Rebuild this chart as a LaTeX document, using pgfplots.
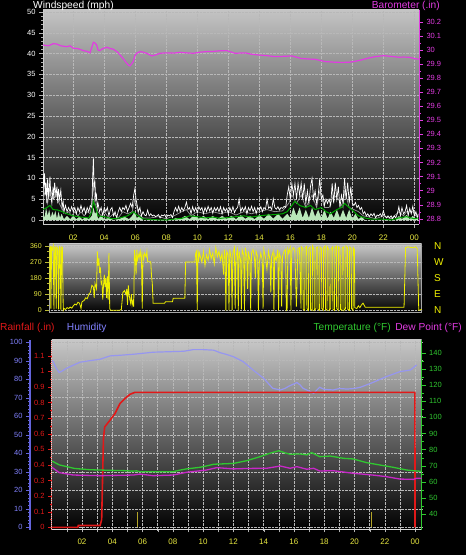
\documentclass[border=0pt]{standalone}
\usepackage{fontspec}
\setmainfont{Liberation Sans}
\usepackage{pgfplots}
\pgfplotsset{compat=1.18}
\definecolor{bgtop}{RGB}{196,196,196}
\definecolor{baromag}{RGB}{226,60,226}
\definecolor{xyel}{RGB}{232,232,64}
\definecolor{diryel}{RGB}{240,240,0}
\definecolor{humblue}{RGB}{130,130,255}
\definecolor{humline}{RGB}{150,150,240}
\definecolor{humaxis}{RGB}{100,100,220}
\definecolor{rainred}{RGB}{225,25,25}
\definecolor{tempgreen}{RGB}{48,200,48}
\definecolor{dewmag}{RGB}{200,40,200}
\definecolor{palegreen}{RGB}{185,230,185}
\definecolor{olive}{RGB}{180,165,40}
\pgfplotsset{
  every axis/.append style={scale only axis, anchor=south west,
    /pgf/number format/assume math mode=true,
    tick label style={font=\fontsize{7.5}{8}\selectfont},
    tick align=outside, major tick length=4pt, minor tick length=2pt},
}
\begin{document}
\begin{tikzpicture}
\fill[black] (0,0) rectangle (466pt,555pt);
\path[use as bounding box] (0,0) rectangle (466pt,555pt);

% ---------- top panel: wind ----------
\begin{axis}[at={(43pt,331pt)}, width=376pt, height=214pt,
  xmin=0.05, xmax=24.3, ymin=-0.96, ymax=50.48,
  axis background/.style={top color=bgtop, bottom color=black},
  axis x line*=bottom, axis y line*=left,
  axis line style={draw=white!80!black, line width=0.8pt, -},
  xtick={2,4,6,8,10,12,14,16,18,20,22,24},
  xticklabels={02,04,06,08,10,12,14,16,18,20,22,00},
  xticklabel style={text=xyel, font=\fontsize{8}{9}\selectfont, yshift=-3pt},
  ytick={0,5,10,15,20,25,30,35,40,45,50},
  yticklabel style={text=white},
  minor y tick num=4,
  tick style={white!70!black},
  xmajorgrids, ymajorgrids,
  grid style={densely dotted, white!72!black, line width=0.5pt}]
\addplot[fill=palegreen, draw=none] coordinates {
(0.05,2)(0.15,0.5)(0.25,3)(0.35,1)(0.45,2.5)(0.55,0.5)(0.65,2)(0.75,1)(0.85,2.2)(0.95,0.3)(1.05,2)(1.15,0.5)(1.25,1.5)(1.4,0.2)(1.6,1)(1.8,0.2)(2.0,1)(2.2,0.2)(2.4,0.8)(2.6,0.1)(2.8,0.8)(3.0,0.2)(3.2,1)(3.3,3)(3.4,1.5)(3.5,2)(3.6,0.3)(3.8,1)(4.0,0.2)(4.3,0.5)(4.6,0)(5.0,0.3)(5.3,0.8)(5.6,0.2)(5.8,1)(5.95,2)(6.1,0.5)(6.3,1)(6.5,0)(8.4,0)(8.6,0.5)(8.9,0.2)(9.2,1)(9.5,0.2)(9.8,1.2)(10.1,0.3)(10.4,1)(10.7,0.2)(11.0,1)(11.3,0.2)(11.6,1)(11.9,0.3)(12.2,1)(12.5,0.2)(12.8,1.2)(13.1,0.3)(13.4,1)(13.7,0.2)(14.0,1.2)(14.3,0.3)(14.6,1.5)(14.9,0.3)(15.2,1.5)(15.5,0.3)(15.8,1.5)(16.0,0.5)(16.2,3)(16.4,1)(16.6,3)(16.8,0.5)(17.0,2.5)(17.2,0.5)(17.4,3)(17.6,0.8)(17.8,2.5)(18.0,0.5)(18.2,2.5)(18.4,0.3)(18.6,2)(18.8,0.5)(19.0,2.5)(19.2,0.5)(19.4,2.5)(19.6,0.5)(19.8,2.5)(20.0,0.3)(20.2,1.5)(20.4,0.2)(20.6,0.8)(20.8,0)(22.8,0)(23.0,1)(23.2,0.2)(23.5,1.2)(23.7,0.2)(23.9,1)(24.1,0.2)(24.25,0.5)
} \closedcycle;
\addplot[white!60!black, line width=0.7pt] coordinates {
(0.05,5)(0.2,7)(0.35,4)(0.5,8)(0.7,5)(0.9,6)(1.1,4)(1.3,2.5)(1.5,1.5)(1.7,2)(1.9,1)(2.1,2)(2.3,1)(2.5,2)(2.7,1)(2.9,2)(3.1,1.5)(3.25,6)(3.3,9)(3.4,4)(3.6,2)(3.8,1)(4.0,2)(4.3,0.5)(4.6,1.5)(4.9,0.5)(5.2,2)(5.5,1.5)(5.8,2)(5.98,5)(6.2,1.5)(6.5,0.5)(7.0,0.5)(7.5,0.8)(8.0,0.3)(8.5,1)(9.0,2)(9.3,2.5)(9.6,1)(10,2)(10.5,1.5)(11,2)(11.5,1.5)(12,2)(12.5,1.2)(13,2)(13.5,1.5)(14,2)(14.5,2.5)(15,2)(15.5,2.2)(15.9,4)(16.1,6)(16.4,4)(16.7,6)(17,3)(17.4,6)(17.7,3)(17.9,7)(18.2,3)(18.5,3)(18.8,6)(19.1,5)(19.4,3)(19.5,7)(19.8,3)(20.1,2.5)(20.4,2)(20.7,1)(21,0.8)(21.5,0.3)(22,1)(22.5,0.3)(23,2)(23.3,1)(23.5,2)(23.9,2)(24.1,1)(24.25,0.8)
};
\addplot[white, line width=0.7pt] coordinates {
(0.05,11)(0.1,8)(0.15,11.2)(0.2,6)(0.25,9)(0.3,4)(0.35,10)(0.42,5)(0.5,10.4)(0.55,6)(0.62,4)(0.7,8)(0.75,5)(0.8,9)(0.88,6)(0.95,8)(1.0,4)(1.05,7.5)(1.12,5)(1.2,7.2)(1.28,3)(1.35,4.5)(1.4,2)(1.5,3.5)(1.6,2)(1.7,3)(1.8,2)(1.9,3.2)(2.0,2)(2.1,3)(2.2,1.5)(2.3,3)(2.4,2)(2.5,3.5)(2.6,2)(2.7,3)(2.8,1.5)(2.9,3)(3.0,2)(3.1,3.5)(3.2,3)(3.25,10)(3.3,14.8)(3.35,8)(3.4,9)(3.45,5)(3.5,6)(3.55,3)(3.6,4)(3.7,2)(3.8,3)(3.9,1)(4.0,3)(4.1,2)(4.2,3)(4.3,1)(4.4,2.5)(4.5,3)(4.6,1)(4.7,2)(4.8,0.5)(4.9,2)(5.0,3)(5.1,2)(5.2,3)(5.3,2.5)(5.4,3.5)(5.5,2)(5.6,3)(5.7,4)(5.8,3)(5.9,6)(5.98,7.6)(6.05,5)(6.1,4)(6.2,2)(6.3,3)(6.4,1)(6.5,2)(6.6,1.2)(6.7,1)(6.8,2.4)(6.9,1)(7.0,1.5)(7.1,1)(7.2,1.2)(7.3,0.8)(7.4,1)(7.5,1.3)(7.6,0.5)(7.7,1.2)(7.8,1)(7.9,1.3)(8.0,0.5)(8.1,1.2)(8.2,1)(8.3,1.3)(8.4,0.6)(8.5,2)(8.6,3)(8.7,2)(8.8,3.3)(8.9,2)(9.0,3)(9.1,2.2)(9.2,3)(9.3,4.3)(9.4,2.5)(9.5,3)(9.6,1.5)(9.7,3.2)(9.8,2)(9.9,3)(10.0,1.8)(10.1,3.2)(10.2,2.4)(10.3,3)(10.4,1.5)(10.5,3)(10.6,2)(10.7,3.3)(10.8,2.2)(10.9,3)(11.0,1.6)(11.1,3)(11.2,2.2)(11.3,3)(11.4,2)(11.5,3.2)(11.6,1.5)(11.7,3)(11.8,2.1)(11.9,2.8)(12.0,1.5)(12.1,3)(12.2,2)(12.3,3.2)(12.4,1.8)(12.5,2.6)(12.6,3)(12.7,5)(12.8,2)(12.9,3)(13.0,2.2)(13.1,3.2)(13.2,1.5)(13.3,3)(13.4,2.2)(13.5,3.3)(13.6,2)(13.7,3)(13.8,1.6)(13.9,3)(14.0,2.4)(14.1,3.2)(14.2,2)(14.3,3)(14.4,2.6)(14.5,5)(14.6,2.8)(14.7,3.2)(14.8,2.5)(14.9,5.1)(15.0,3)(15.1,2.6)(15.2,3.2)(15.3,2.4)(15.4,3)(15.5,2.8)(15.6,3.3)(15.7,3)(15.8,6)(15.9,8)(16.0,5)(16.1,8.8)(16.2,6)(16.3,8.8)(16.4,5)(16.5,8.8)(16.6,6)(16.7,8.8)(16.8,5)(16.9,8.8)(17.0,4)(17.1,7)(17.2,4)(17.3,8)(17.4,10)(17.5,5)(17.6,7)(17.7,4)(17.8,6)(17.9,10)(18.0,5)(18.1,6)(18.2,3.5)(18.3,5)(18.4,4)(18.5,5)(18.6,3.5)(18.7,8.8)(18.8,4)(18.9,9)(19.0,5)(19.1,8)(19.2,3)(19.3,6)(19.4,4)(19.5,10)(19.6,5)(19.7,9)(19.8,4)(19.9,8)(20.0,4)(20.1,3.5)(20.2,4.2)(20.3,3)(20.4,3.5)(20.5,2.5)(20.6,3)(20.7,1.5)(20.8,2)(20.9,1)(21.0,1.5)(21.1,0.8)(21.2,1.5)(21.3,1)(21.4,1.6)(21.5,0.5)(21.6,1.2)(21.7,1)(21.8,1.5)(21.9,0.8)(22.0,2.2)(22.1,1)(22.2,0.5)(22.3,1)(22.4,0.5)(22.5,1)(22.6,0.3)(22.7,1)(22.8,0.5)(22.9,1.5)(23.0,3.2)(23.1,1)(23.2,3)(23.3,1.5)(23.4,2)(23.5,3.5)(23.6,1)(23.7,2.8)(23.8,1.5)(23.9,3.3)(24.0,1)(24.1,2)(24.2,0.5)(24.25,1.5)
};
\addplot[green!65!black, line width=1pt] coordinates {
(0.05,2.5)(0.3,3)(0.5,3.5)(0.7,2.5)(1.0,2.4)(1.3,2)(1.6,1.5)(2.0,1)(2.5,0.7)(3.0,0.5)(3.2,2)(3.3,4.5)(3.45,3)(3.6,1)(4.0,0.8)(4.5,0.3)(5.0,0.5)(5.5,1)(5.9,2)(6.1,1.2)(6.5,0.3)(7.0,0.1)(8.0,0)(8.5,0.2)(9.0,0.4)(9.5,1)(10,0.8)(10.5,0.5)(11,0.7)(11.5,0.4)(12,0.6)(12.5,0.8)(13,1)(13.5,0.7)(14,1)(14.5,1.2)(15,1.3)(15.5,1.5)(15.8,2)(16.0,3)(16.3,4.5)(16.6,3.5)(17.0,3)(17.3,3.5)(17.6,2.5)(18.0,3)(18.3,2)(18.6,1.5)(19.0,2.5)(19.3,3)(19.5,4)(19.8,3)(20.1,2)(20.4,1)(20.8,0.5)(21.2,0.2)(22,0.2)(22.5,0)(23,0.5)(23.5,0.8)(24,0.3)(24.25,0.5)
};
\end{axis}
\begin{axis}[at={(43pt,331pt)}, width=376pt, height=214pt,
  xmin=0.05, xmax=24.3, ymin=28.762, ymax=30.285,
  axis x line=none, axis y line*=right,
  axis line style={draw=baromag, line width=0.8pt, -},
  ytick={28.8,28.9,29,29.1,29.2,29.3,29.4,29.5,29.6,29.7,29.8,29.9,30,30.1,30.2},
  yticklabel style={text=baromag},
  minor y tick num=1, tick style={baromag}]
\addplot[baromag, line width=1.2pt] coordinates {
(0.06,30.036)(0.4,30.03)(0.7,30.045)(0.93,30.043)(1.2,30.03)(1.57,30.024)(1.8,30.03)(2.0,30.013)(2.3,30.01)(2.65,29.996)(2.9,29.99)(3.08,29.98)(3.2,30.02)(3.3,30.055)(3.4,30.05)(3.51,30.036)(3.6,30.0)(3.72,29.996)(3.9,30.01)(4.16,30.02)(4.4,30.01)(4.58,30.006)(4.8,29.99)(5.02,29.965)(5.25,29.935)(5.45,29.906)(5.6,29.89)(5.66,29.887)(5.75,29.9)(5.87,29.918)(5.98,29.96)(6.09,29.977)(6.31,29.989)(6.5,29.985)(6.74,29.977)(7.06,29.958)(7.3,29.965)(7.6,29.977)(8.0,29.98)(8.5,29.978)(8.89,29.984)(9.3,29.98)(9.75,29.977)(10.2,29.985)(10.61,29.989)(11.0,29.99)(11.5,29.995)(11.9,29.996)(12.44,29.977)(13.09,29.98)(13.5,29.97)(13.95,29.965)(14.5,29.96)(15.02,29.953)(15.5,29.955)(16.1,29.958)(16.7,29.94)(17.2,29.936)(17.6,29.934)(18.25,29.918)(18.9,29.913)(19.3,29.912)(19.76,29.913)(20.2,29.92)(20.6,29.93)(21.0,29.942)(21.48,29.953)(22.0,29.96)(22.5,29.955)(22.98,29.949)(23.3,29.95)(23.63,29.949)(24.0,29.94)(24.28,29.934)
};
\end{axis}

% ---------- middle panel: wind direction ----------
\begin{axis}[at={(49.3pt,242.3pt)}, width=372.4pt, height=68.7pt,
  xmin=0.45, xmax=24.49, ymin=-13.4, ymax=371,
  axis background/.style={top color=bgtop!95!white, bottom color=black},
  axis line style={draw=white!65!black, line width=0.8pt},
  xtick=\empty,
  ytick={0,90,180,270,360}, ymajorgrids,
  ytick pos=left,
  minor y tick num=2,
  yticklabel style={text=xyel, font=\fontsize{7}{8}\selectfont},
  tick style={xyel!80!black},
  grid style={densely dotted, white!72!black, line width=0.5pt}]
\addplot[diryel, line width=0.8pt] coordinates {
(0.45,60)(0.47,350)(0.52,355)(0.55,10)(0.6,350)(0.65,340)(0.7,360)(0.75,5)(0.8,355)(0.85,350)(0.9,10)(0.93,355)(1.0,345)(1.05,5)(1.1,355)(1.15,350)(1.2,0)(1.25,355)(1.3,350)(1.35,0)(1.4,10)(1.5,5)(1.6,15)(1.7,10)(1.8,18)(1.9,12)(2.0,25)(2.1,35)(2.2,30)(2.3,45)(2.4,40)(2.5,10)(2.55,45)(2.6,50)(2.7,55)(2.8,70)(2.9,65)(3.0,90)(3.1,100)(3.2,140)(3.3,130)(3.35,70)(3.4,150)(3.5,120)(3.55,330)(3.6,250)(3.65,290)(3.7,210)(3.75,240)(3.8,150)(3.85,160)(3.9,60)(3.95,140)(4.0,200)(4.05,130)(4.1,180)(4.15,70)(4.2,190)(4.25,60)(4.3,320)(4.35,10)(4.4,0)(4.5,0)(5.0,0)(5.1,5)(5.2,100)(5.3,110)(5.4,90)(5.45,120)(5.5,30)(5.55,140)(5.6,90)(5.65,60)(5.7,40)(5.75,90)(5.8,30)(5.85,50)(5.9,20)(5.95,338)(6.0,300)(6.05,200)(6.1,340)(6.15,280)(6.2,300)(6.25,320)(6.3,290)(6.35,330)(6.4,300)(6.45,10)(6.5,310)(6.55,290)(6.6,320)(6.7,300)(6.75,330)(6.8,272)(7.0,272)(7.05,190)(7.1,150)(7.15,40)(7.9,40)(7.95,48)(8.4,48)(8.45,67)(9.2,67)(9.25,270)(9.85,270)(9.9,320)(9.95,330)(10.0,0)(10.05,340)(10.1,290)(10.15,320)(10.2,300)(10.3,270)(10.4,330)(10.5,250)(10.6,310)(10.7,280)(10.8,340)(10.9,290)(11.0,320)(11.1,260)(11.2,350)(11.3,300)(11.4,330)(11.5,280)(11.6,320)(11.7,200)(11.75,340)(11.8,300)(11.85,0)(11.9,330)(12.0,310)(12.05,0)(12.1,340)(12.2,290)(12.25,0)(12.3,320)(12.4,350)(12.45,10)(12.5,300)(12.6,340)(12.65,0)(12.7,330)(12.8,280)(12.85,5)(12.9,340)(13.0,310)(13.05,0)(13.1,350)(13.2,300)(13.25,120)(13.3,330)(13.4,280)(13.45,0)(13.5,320)(13.6,340)(13.7,290)(13.75,180)(13.8,330)(13.9,300)(13.95,0)(14.0,260)(14.1,320)(14.2,280)(14.25,10)(14.3,340)(14.4,300)(14.5,230)(14.6,330)(14.7,280)(14.75,100)(14.8,300)(14.9,330)(14.95,0)(15.0,310)(15.1,280)(15.2,340)(15.25,0)(15.3,320)(15.4,290)(15.45,20)(15.5,300)(15.6,330)(15.7,340)(15.75,0)(15.8,5)(15.85,340)(15.9,320)(16.0,350)(16.05,0)(16.1,330)(16.2,350)(16.3,340)(16.4,20)(16.5,345)(16.6,350)(16.7,10)(16.72,355)(16.82,345)(16.84,5)(16.94,0)(16.96,350)(17.06,358)(17.08,10)(17.18,0)(17.2,345)(17.3,355)(17.32,5)(17.42,0)(17.44,360)(17.54,340)(17.56,0)(17.66,10)(17.68,350)(17.78,355)(17.8,5)(17.9,0)(17.92,355)(18.02,345)(18.04,10)(18.14,0)(18.16,350)(18.26,360)(18.28,5)(18.38,0)(18.4,355)(18.5,338)(18.52,0)(18.62,10)(18.64,345)(18.74,355)(18.76,5)(18.86,0)(18.88,350)(18.98,360)(19.0,10)(19.1,0)(19.12,355)(19.22,345)(19.24,5)(19.34,0)(19.36,350)(19.46,355)(19.48,0)(19.58,10)(19.6,360)(19.7,350)(19.72,5)(19.82,0)(19.84,355)(19.94,345)(19.96,10)(20.06,0)(20.08,350)(20.15,340)(20.17,15)(20.3,10)(20.4,25)(20.5,15)(20.6,30)(20.7,40)(20.8,25)(20.85,17)(23.35,17)(23.45,350)(23.6,355)(23.9,350)(24.1,355)(24.2,345)(24.3,0)(24.49,5)
};
\end{axis}
\begin{axis}[at={(49.3pt,242.3pt)}, width=372.4pt, height=68.7pt,
  xmin=0.45, xmax=24.49, ymin=-13.4, ymax=371,
  axis x line=none, axis y line*=right, axis line style={draw=none},
  ytick={0,90,180,270,360}, yticklabels={N,E,S,W,N},
  major tick length=0pt,
  yticklabel style={text=diryel, font=\fontsize{10}{11}\selectfont, xshift=9pt}]
\addplot[draw=none] coordinates {(1,0)};
\end{axis}

% ---------- bottom panel ----------
\begin{axis}[at={(52pt,25pt)}, width=369.7pt, height=190pt,
  xmin=0.02, xmax=24.44, ymin=-1.46, ymax=101.2,
  axis background/.style={top color=bgtop!95!white, bottom color=black},
  axis x line*=bottom, axis y line*=left,
  axis line style={draw=white!85!black, line width=1pt, -},
  xtick={1,2,...,24},
  xticklabels={,02,,04,,06,,08,,10,,12,,14,,16,,18,,20,,22,,00},
  xticklabel style={text=xyel, font=\fontsize{8}{9}\selectfont, yshift=-3pt},
  major tick length=2.5pt,
  tick style={white!70!black},
  ytick={0,10,...,100}, yticklabels={}, ytick style={draw=none},
  xmajorgrids, ymajorgrids,
  grid style={densely dotted, white!72!black, line width=0.5pt}]
\addplot[humline, line width=1.2pt] coordinates {
(0.02,90)(0.1,89.5)(0.3,86)(0.5,83.6)(0.7,84.5)(1.0,86)(1.4,87.5)(1.87,89.2)(2.5,90)(3.2,90.8)(3.85,92.6)(4.6,93)(5.4,93.5)(6.0,94)(6.7,94.6)(7.5,94.8)(8.7,95.1)(9.0,95.5)(9.35,96)(10.0,96)(10.7,95.7)(11.1,94.4)(11.5,93.5)(12.0,92.2)(12.65,89.5)(13.3,85)(14.0,80.5)(14.6,75.1)(15.1,74.2)(15.4,75)(15.7,76.4)(16.2,78.2)(16.4,77)(16.6,75.1)(16.9,74)(17.3,72.4)(17.7,75.7)(18.0,74.5)(18.6,74.2)(19.0,75)(19.5,74.7)(20.0,75)(20.4,75.7)(21.2,78.2)(22.1,81.4)(23.0,84.1)(23.7,85)(24.1,87.7)
};
\end{axis}
\begin{axis}[at={(52pt,25pt)}, width=369.7pt, height=190pt,
  xmin=0.02, xmax=24.44, ymin=-0.017, ymax=1.2,
  axis x line=none, axis y line*=left,
  axis line style={draw=rainred!70!white, line width=1pt, densely dotted, -},
  ytick={0,0.1,0.2,0.3,0.4,0.5,0.6,0.7,0.8,0.9,1,1.1},
  yticklabel style={text=rainred},
  minor y tick num=1, tick style={rainred}]
\addplot[olive, line width=1pt, ycomb] coordinates {(5.68,0.1)(21.14,0.1)};
\addplot[rainred, line width=1.6pt] coordinates {
(0.02,0)(1.72,0)(1.76,0.012)(3.2,0.012)(3.3,0.05)(3.38,0.4)(3.42,0.57)(3.5,0.643)(3.85,0.686)(4.18,0.729)(4.51,0.793)(4.84,0.825)(5.17,0.852)(5.5,0.865)(23.99,0.865)(24.0,0)
};
\end{axis}
\begin{axis}[at={(52pt,25pt)}, width=369.7pt, height=190pt,
  xmin=0.02, xmax=24.44, ymin=30.06, ymax=148.07,
  axis x line=none, axis y line*=right,
  axis line style={draw=tempgreen, line width=1pt, -},
  ytick={40,50,60,70,80,90,100,110,120,130,140},
  yticklabel style={text=tempgreen},
  minor y tick num=1, tick style={tempgreen}]
\addplot[tempgreen, line width=1.3pt] coordinates {
(0.02,72.8)(0.1,72.5)(0.5,70.5)(1.0,69.4)(1.5,68.3)(1.87,68)(2.5,67.5)(3.2,67.3)(4.0,67.1)(4.95,66.9)(5.3,66.6)(5.6,66.8)(5.83,66.3)(7.0,66.2)(8.03,66.3)(8.5,67.3)(8.9,68)(9.8,69)(10.3,70)(10.7,70.9)(12.0,71.4)(12.88,73.1)(13.76,75.6)(14.4,77.7)(15.0,79.3)(15.4,78)(15.75,77.1)(16.4,77.3)(16.85,76.7)(17.17,78.1)(17.7,75.6)(18.4,76.0)(19.26,74.6)(19.9,74.2)(20.8,71.9)(21.7,70.4)(22.56,69)(23.45,67.3)(24.1,66.7)(24.44,66.5)
};
\addplot[dewmag, line width=1.3pt] coordinates {
(0.02,69)(0.1,68.4)(0.5,65.7)(1.43,64.2)(3.2,63.8)(5.4,64.2)(5.83,64.8)(6.7,63.8)(8.03,64.2)(8.9,65.9)(10.23,67.3)(10.9,68.8)(12,68)(13,68.3)(14.2,68.4)(15.1,69.8)(15.75,68.4)(16.2,69.4)(16.85,67.8)(17.3,68.4)(17.7,66.7)(18.6,66.9)(19.9,65.3)(21.2,64.2)(22.1,63.2)(23.0,61.7)(23.9,61.5)(24.1,62.2)(24.44,62.2)
};
\end{axis}
% humidity scale at far left
\begin{axis}[at={(30pt,25pt)}, width=1pt, height=190pt,
  xmin=0, xmax=1, ymin=-1.46, ymax=101.2,
  axis x line=none, axis y line*=left,
  axis line style={draw=humaxis, line width=1.5pt, -},
  ytick={0,10,20,30,40,50,60,70,80,90,100},
  yticklabel style={text=humblue},
  minor y tick num=4, tick style={humaxis}]
\addplot[draw=none] coordinates {(0.5,50)};
\end{axis}

% ---------- titles ----------
\begin{scope}[every node/.style={inner sep=0pt, font=\fontsize{10.2}{12}\selectfont}]
\node[anchor=base west, text=white] at (33pt,546pt) {Windspeed (mph)};
\node[anchor=base east, text=baromag] at (440pt,546pt) {Barometer (.in)};
\node[anchor=base west, text=rainred] at (0pt,224.3pt) {Rainfall (.in)};
\node[anchor=base west, text=humblue] at (66.7pt,224.3pt) {Humidity};
\node[anchor=base east, text=tempgreen] at (391pt,224.3pt) {Temperature (°F)};
\node[anchor=base east, text=baromag] at (462pt,224.3pt) {Dew Point (°F)};
\end{scope}
\end{tikzpicture}
\end{document}
